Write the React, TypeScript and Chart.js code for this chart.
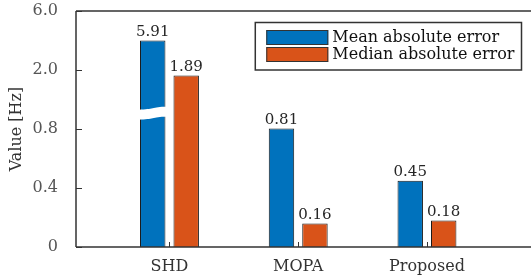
import React, { useEffect, useRef } from 'react';
import { Chart, registerables, LinearScale } from 'chart.js';

Chart.register(...registerables);

// ---- data ----
const CATEGORIES = ['SHD', 'MOPA', 'Proposed'];
const SERIES_NAMES = ['Mean absolute error', 'Median absolute error'];
const MEAN_ABS_ERROR = [5.91, 0.81, 0.45];
const MEDIAN_ABS_ERROR = [1.89, 0.16, 0.18];
const Y_TICKS = [0, 0.4, 0.8, 2.0, 6.0];
const Y_TICK_LABELS = ['0', '0.4', '0.8', '2.0', '6.0'];
// bars above this value are drawn clipped, with a break mark
const BROKEN_BAR_LIMIT = 4.0;
const BREAK_MARK_VALUE = 1.12;

const COLORS = ['#0072BD', '#D95319'];
const FONT_FAMILY = '"DejaVu Serif", serif';

function toFrac(v: number): number {
  const n = Y_TICKS.length - 1;
  if (v <= Y_TICKS[0]) return 0;
  for (let i = 1; i <= n; i++) {
    if (v <= Y_TICKS[i]) {
      return (i - 1 + (v - Y_TICKS[i - 1]) / (Y_TICKS[i] - Y_TICKS[i - 1])) / n;
    }
  }
  return 1;
}
function fromFrac(f: number): number {
  const n = Y_TICKS.length - 1;
  const p = Math.max(0, Math.min(n, f * n));
  const i = Math.min(n - 1, Math.floor(p));
  return Y_TICKS[i] + (p - i) * (Y_TICKS[i + 1] - Y_TICKS[i]);
}

class PiecewiseScale extends (LinearScale as any) {
  static id = 'piecewise';
  static defaults = { ...(LinearScale as any).defaults };
  buildTicks() {
    return Y_TICKS.map((value) => ({ value }));
  }
  getPixelForValue(value: any) {
    if (value === null || value === undefined || isNaN(value)) return NaN;
    return (this as any).getPixelForDecimal(toFrac(value));
  }
  getValueForPixel(pixel: number) {
    return fromFrac((this as any).getDecimalForPixel(pixel));
  }
}
Chart.register(PiecewiseScale as any);

const decorPlugin = {
  id: 'decor',
  afterDatasetsDraw(chart: any) {
    const ctx = chart.ctx;
    const { left, right, top, bottom } = chart.chartArea;
    const yScale = chart.scales.y;
    const xScale = chart.scales.x;
    const values = [MEAN_ABS_ERROR, MEDIAN_ABS_ERROR];

    // break marks
    values.forEach((vals, di) => {
      const meta = chart.getDatasetMeta(di);
      meta.data.forEach((bar: any, i: number) => {
        if (vals[i] > BROKEN_BAR_LIMIT) {
          const yc = yScale.getPixelForValue(BREAK_MARK_VALUE);
          const L = bar.x - bar.width / 2 - 1.5;
          const R = bar.x + bar.width / 2 + 1.5;
          const w = R - L;
          const h = 5;
          const a = 1.4;
          ctx.save();
          ctx.fillStyle = '#ffffff';
          ctx.beginPath();
          ctx.moveTo(L, yc - h + a);
          ctx.bezierCurveTo(L + w * 0.55, yc - h + a, L + w * 0.45, yc - h - a, R, yc - h - a);
          ctx.lineTo(R, yc + h - a);
          ctx.bezierCurveTo(L + w * 0.45, yc + h - a, L + w * 0.55, yc + h + a, L, yc + h + a);
          ctx.closePath();
          ctx.fill();
          ctx.restore();
        }
      });
    });

    // axes box
    ctx.save();
    ctx.strokeStyle = '#333333';
    ctx.lineWidth = 1.5;
    ctx.beginPath();
    ctx.moveTo(left, top);
    ctx.lineTo(right, top);
    ctx.moveTo(left, top);
    ctx.lineTo(left, bottom);
    ctx.moveTo(left, bottom);
    ctx.lineTo(right, bottom);
    ctx.stroke();
    // inward ticks
    ctx.lineWidth = 1;
    ctx.beginPath();
    Y_TICKS.forEach((v) => {
      const y = Math.round(yScale.getPixelForValue(v)) + 0.5;
      ctx.moveTo(left, y);
      ctx.lineTo(left + 6, y);
    });
    CATEGORIES.forEach((_, i) => {
      const x = Math.round(xScale.getPixelForValue(i + 1)) + 0.5;
      ctx.moveTo(x, bottom);
      ctx.lineTo(x, bottom - 5);
    });
    ctx.stroke();
    ctx.restore();

    // value labels
    ctx.save();
    ctx.font = `15px ${FONT_FAMILY}`;
    ctx.fillStyle = '#262626';
    ctx.textAlign = 'center';
    ctx.textBaseline = 'alphabetic';
    values.forEach((vals, di) => {
      const meta = chart.getDatasetMeta(di);
      meta.data.forEach((bar: any, i: number) => {
        ctx.fillText(vals[i].toFixed(2), bar.x, bar.y - 4.5);
      });
    });
    ctx.restore();

    // legend
    ctx.save();
    ctx.font = `16px ${FONT_FAMILY}`;
    const textW = Math.max(...SERIES_NAMES.map((s) => ctx.measureText(s).width));
    const swW = 62;
    const swH = 15;
    const boxR = right - 9.5;
    const boxW = 11 + swW + 4 + textW + 7;
    const boxL = boxR - boxW;
    const boxT = top + 11.5;
    const rowH = 17;
    const boxH = 47.5;
    ctx.fillStyle = '#ffffff';
    ctx.fillRect(boxL, boxT, boxW, boxH);
    ctx.strokeStyle = '#333333';
    ctx.lineWidth = 1.5;
    ctx.strokeRect(boxL, boxT, boxW, boxH);
    SERIES_NAMES.forEach((name, i) => {
      const sy = boxT + 7.5 + i * rowH;
      ctx.fillStyle = COLORS[i];
      ctx.fillRect(boxL + 11, sy, swW, swH);
      ctx.strokeStyle = '#333333';
      ctx.lineWidth = 1;
      ctx.strokeRect(boxL + 11 + 0.5, sy + 0.5, swW - 1, swH - 1);
      ctx.fillStyle = '#111111';
      ctx.textAlign = 'left';
      ctx.textBaseline = 'middle';
      ctx.fillText(name, boxL + 11 + swW + 4, sy + swH / 2 + 0.5);
    });
    ctx.restore();
  },
};

export default function App() {
  const canvasRef = useRef<HTMLCanvasElement | null>(null);

  useEffect(() => {
    const canvas = canvasRef.current;
    if (!canvas) return;
    const makeData = (vals: number[]) =>
      vals.map((v, i) => ({ x: i + 1, y: Math.min(v, BROKEN_BAR_LIMIT) }));
    const chart = new Chart(canvas, {
      type: 'bar',
      data: {
        datasets: [
          {
            label: SERIES_NAMES[0],
            data: makeData(MEAN_ABS_ERROR) as any,
            backgroundColor: COLORS[0],
            borderColor: '#1a1a1a',
            borderWidth: 1,
            categoryPercentage: 0.52,
            barPercentage: 0.76,
          },
          {
            label: SERIES_NAMES[1],
            data: makeData(MEDIAN_ABS_ERROR) as any,
            backgroundColor: COLORS[1],
            borderColor: '#1a1a1a',
            borderWidth: 1,
            categoryPercentage: 0.52,
            barPercentage: 0.76,
          },
        ],
      },
      options: {
        responsive: false,
        animation: false,
        devicePixelRatio: 1,
        layout: { padding: { top: 11, right: 0, bottom: 0, left: 0 } },
        plugins: {
          legend: { display: false },
          tooltip: { enabled: false },
        },
        scales: {
          x: {
            type: 'linear',
            min: 0.274,
            max: 3.808,
            bounds: 'data',
            offset: false,
            grid: { display: false },
            border: { display: false },
            afterBuildTicks: (s: any) => {
              s.ticks = CATEGORIES.map((_, i) => ({ value: i + 1 }));
            },
            afterFit: (s: any) => {
              s.height = 30;
              s.paddingLeft = 0;
              s.paddingRight = 0;
            },
            ticks: {
              autoSkip: false,
              maxRotation: 0,
              padding: 2,
              color: '#333333',
              font: { family: FONT_FAMILY, size: 16 },
              callback: (v: any) => CATEGORIES[Math.round(Number(v)) - 1] ?? '',
            },
          } as any,
          y: {
            type: 'piecewise',
            min: 0,
            max: 6,
            grid: { display: false },
            border: { display: false },
            afterFit: (s: any) => {
              s.width = 76;
              s.paddingTop = 0;
              s.paddingBottom = 0;
            },
            ticks: {
              padding: 10,
              color: '#555555',
              font: { family: FONT_FAMILY, size: 16 },
              callback: (_v: any, i: number) => Y_TICK_LABELS[i],
            },
            title: {
              display: true,
              text: 'Value [Hz]',
              color: '#333333',
              font: { family: FONT_FAMILY, size: 16 },
              padding: { top: 7, bottom: 0 },
            },
          } as any,
        },
      },
      plugins: [decorPlugin],
    });
    return () => chart.destroy();
  }, []);

  return (
    <div style={{ position: 'fixed', left: 0, top: 0, width: 531, height: 277, background: '#fff' }}>
      <canvas ref={canvasRef} width={531} height={277} style={{ display: 'block' }} />
    </div>
  );
}
